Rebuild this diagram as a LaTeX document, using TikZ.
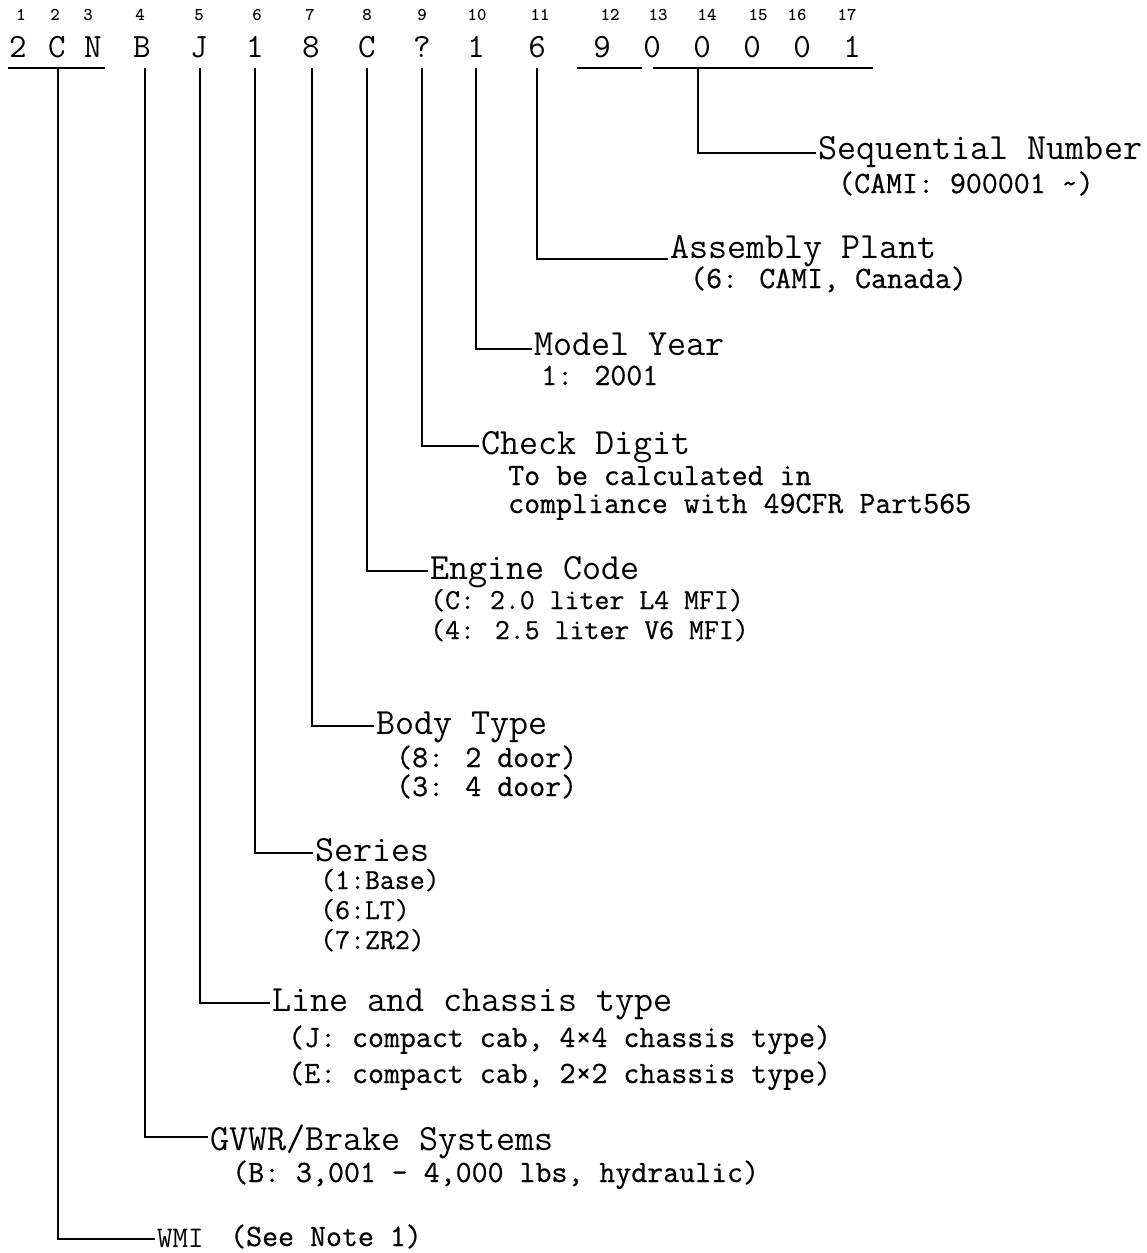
\documentclass[tikz,border=0pt]{standalone}
\usepackage{fontspec}
\newfontfamily\vindesc{Latin Modern Mono}[FakeBold=0.6]
\usetikzlibrary{positioning}
\tikzset{
  vinchar/.style={font=\ttfamily\fontsize{34}{34}\selectfont,inner sep=0pt,anchor=base},
  vinidx/.style={font=\ttfamily\bfseries\fontsize{18}{18}\selectfont,inner sep=0pt,anchor=base},
  fieldhead/.style={font=\ttfamily\fontsize{37}{37}\selectfont,inner sep=2pt,anchor=west,
    text height=22pt,text depth=6pt},
  fielddesc/.style={font=\vindesc\fontsize{31}{31}\selectfont,inner sep=0pt,anchor=base west,
    text height=19pt,text depth=5pt},
  fieldlist/.style={fielddesc,font=\vindesc\fontsize{29}{29}\selectfont},
  leader/.style={line width=1.8pt,draw=black}
}
\begin{document}
\begin{tikzpicture}[x=1pt,y=-1pt]
  \useasboundingbox (0,0) rectangle (1147,1253);

  % position numbers
  \node[vinidx] (n1) at (21,20) {1};   \node[vinidx] (n2) at (55,20) {2};
  \node[vinidx] (n3) at (88,20) {3};   \node[vinidx] (n4) at (140,20) {4};
  \node[vinidx] (n5) at (199,20) {5};  \node[vinidx] (n6) at (257,20) {6};
  \node[vinidx] (n7) at (310,20) {7};  \node[vinidx] (n8) at (367,20) {8};
  \node[vinidx] (n9) at (422,20) {9};  \node[vinidx] (n10) at (477,20) {10};
  \node[vinidx] (n11) at (540,20) {11}; \node[vinidx] (n12) at (610,20) {12};
  \node[vinidx] (n13) at (658,20) {13}; \node[vinidx] (n14) at (707,20) {14};
  \node[vinidx] (n15) at (758,20) {15}; \node[vinidx] (n16) at (797,20) {16};
  \node[vinidx] (n17) at (847,20) {17};

  % VIN characters
  \node[vinchar] (c1) at (18,57) {2};   \node[vinchar] (c2) at (57,57) {C};
  \node[vinchar] (c3) at (93,57) {N};   \node[vinchar] (c4) at (142,57) {B};
  \node[vinchar] (c5) at (199,57) {J};  \node[vinchar] (c6) at (255,57) {1};
  \node[vinchar] (c7) at (311,57) {8};  \node[vinchar] (c8) at (367,57) {C};
  \node[vinchar] (c9) at (422,57) {?};  \node[vinchar] (c10) at (476,57) {1};
  \node[vinchar] (c11) at (537,57) {6}; \node[vinchar] (c12) at (602,57) {9};
  \node[vinchar] (c13) at (652,57) {0}; \node[vinchar] (c14) at (702,57) {0};
  \node[vinchar] (c15) at (752,57) {0}; \node[vinchar] (c16) at (802,57) {0};
  \node[vinchar] (c17) at (852,57) {1};

  % underlines
  \coordinate (ua) at (8,68);   \coordinate (ub) at (105,68);
  \coordinate (uc) at (577,68); \coordinate (ud) at (642,68);
  \coordinate (ue) at (653,68); \coordinate (uf) at (873,68);
  \draw[leader] (ua) -- (ub);
  \draw[leader] (uc) -- (ud);
  \draw[leader] (ue) -- (uf);

  % leader tops
  \coordinate (twmi) at (58,68);  \coordinate (t4) at (145,68);
  \coordinate (t5) at (200,68);   \coordinate (t6) at (255,68);
  \coordinate (t7) at (312,68);   \coordinate (t8) at (367,68);
  \coordinate (t9) at (422,68);   \coordinate (t10) at (476,68);
  \coordinate (t11) at (537,68);  \coordinate (tseq) at (698,68);

  % field names
  \node[fieldhead] (seq) at (816,151) {Sequential Number};
  \node[fieldhead] (plant) at (668,250) {Assembly Plant};
  \node[fieldhead] (year) at (532,347) {Model Year};
  \node[fieldhead] (check) at (479,446) {Check Digit};
  \node[fieldhead] (engine) at (428,571) {Engine Code};
  \node[fieldhead] (body) at (374,726) {Body Type};
  \node[fieldhead] (series) at (313,853) {Series};
  \node[fieldhead] (chassis) at (270,1003) {Line and chassis type};
  \node[fieldhead] (gvwr) at (208,1142) {GVWR/Brake Systems};
  \node[fieldhead,font=\ttfamily\fontsize{30}{30}\selectfont] (wmi) at (155,1239) {WMI};

  % field values
  \node[fielddesc] (seqv) at (838,193) {(CAMI: 900001 \textasciitilde)};
  \node[fielddesc] (plantv) at (690,288) {(6: CAMI, Canada)};
  \node[fielddesc] (yearv) at (541,385) {1: 2001};
  \node[fielddesc] (checkv1) at (508,485) {To be calculated in};
  \node[fielddesc] (checkv2) at (508,513) {compliance with 49CFR Part565};
  \node[fieldlist] (enginev1) at (430,609) {(C: 2.0 liter L4 MFI)};
  \node[fieldlist] (enginev2) at (430,639) {(4: 2.5 liter V6 MFI)};
  \node[fielddesc] (bodyv1) at (396,767) {(8: 2 door)};
  \node[fielddesc] (bodyv2) at (396,796) {(3: 4 door)};
  \node[fieldlist] (seriesv1) at (320,889) {(1:Base)};
  \node[fieldlist] (seriesv2) at (320,919) {(6:LT)};
  \node[fieldlist] (seriesv3) at (320,949) {(7:ZR2)};
  \node[fielddesc] (chassisv1) at (288,1047) {(J: compact cab, 4×4 chassis type)};
  \node[fielddesc] (chassisv2) at (288,1083) {(E: compact cab, 2×2 chassis type)};
  \node[fielddesc] (gvwrv) at (232,1182) {(B: 3,001 - 4,000 lbs, hydraulic)};
  \node[fielddesc] (wmiv) at (230,1246) {(See Note 1)};

  % leaders
  \draw[leader] (tseq) |- ([yshift=-2pt]seq.west);
  \draw[leader] (t11) |- ([yshift=-9pt]plant.west);
  \draw[leader] (t10) |- ([yshift=-2pt]year.west);
  \draw[leader] (t9) |- (check.west);
  \draw[leader] (t8) |- (engine.west);
  \draw[leader] (t7) |- (body.west);
  \draw[leader] (t6) |- (series.west);
  \draw[leader] (t5) |- (chassis.west);
  \draw[leader] (t4) |- ([yshift=5pt]gvwr.west);
  \draw[leader] (twmi) |- (wmi.west);
\end{tikzpicture}
\end{document}
